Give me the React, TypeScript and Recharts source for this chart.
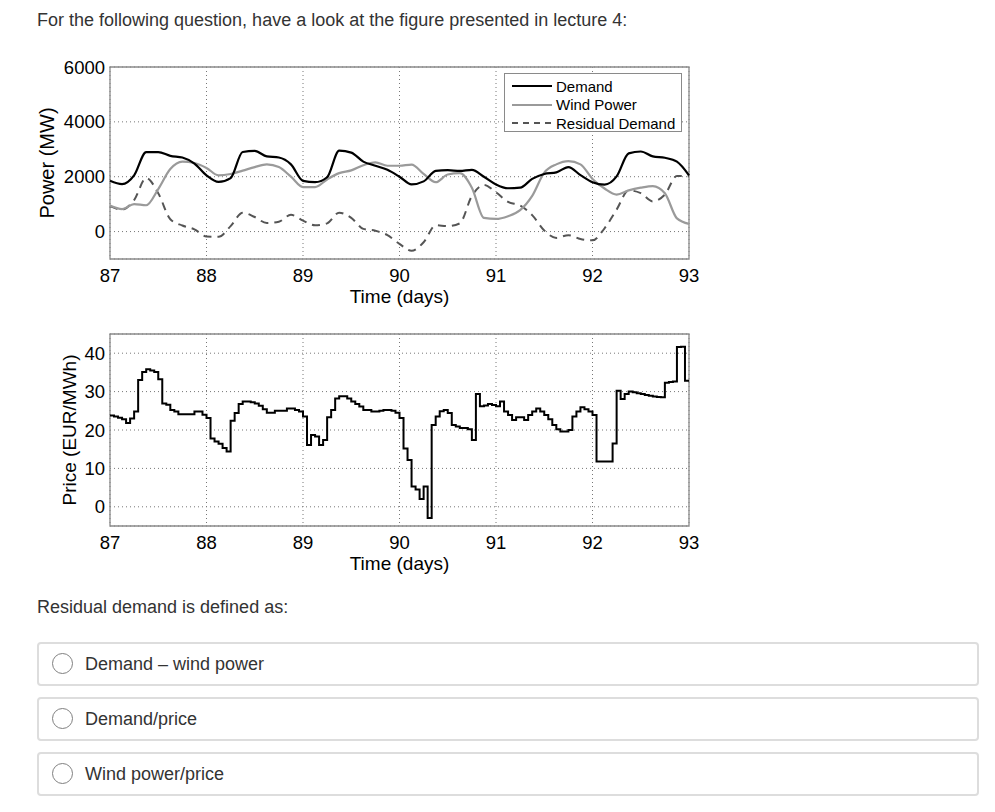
import React from 'react';
import { LineChart, Line, XAxis, YAxis, CartesianGrid, ReferenceArea, Legend } from 'recharts';

const FONT = '"Liberation Sans", Arial, Helvetica, sans-serif';

const DAY_TICKS = [87, 88, 89, 90, 91, 92, 93];
const POWER_TICKS = [0, 2000, 4000, 6000];
const PRICE_TICKS = [0, 10, 20, 30, 40];

// power readings (MW), one every 3 hours from day 87 to day 93
const demand = [
  1850, 1730, 2050, 2900, 2900, 2760, 2700, 2480,
  2050, 1810, 1950, 2900, 2940, 2740, 2700, 2450,
  1850, 1800, 1980, 2950, 2880, 2550, 2400, 2250,
  2000, 1720, 1830, 2210, 2240, 2210, 2250, 2000,
  1720, 1580, 1600, 1920, 2100, 2160, 2350, 2060,
  1800, 1710, 2010, 2850, 2920, 2740, 2690, 2550,
  2050,
];
const windPower = [
  950, 820, 1000, 960, 1550, 2280, 2550, 2500,
  2320, 2050, 2100, 2220, 2350, 2450, 2350, 2000,
  1620, 1620, 1900, 2130, 2230, 2420, 2520, 2400,
  2400, 2440, 2100, 1800, 2080, 2130, 1600, 500,
  460, 560, 780, 1300, 2150, 2450, 2570, 2450,
  1920, 1570, 1350, 1500, 1600, 1660, 1400, 480,
  280,
];
const residualDemand = [
  930, 800, 1150, 1950, 1400, 450, 220, 80,
  -180, -190, 200, 690, 530, 310, 360, 610,
  400, 230, 300, 690, 500, 100, 30, -130,
  -450, -700, -390, 230, 200, 300, 1300, 1700,
  1430, 1080, 950, 600, 40, -230, -130, -270,
  -320, 120, 800, 1500, 1400, 1100, 1350, 2030,
  2010,
];

// hourly price (EUR/MWh), day 87 00:00 -> day 93 00:00
const price = [
  23.8, 23.5, 23.2, 22.8, 21.8, 23.0, 24.8, 33.0, 35.1, 35.8, 35.5, 35.1,
  33.2, 26.9, 26.6, 25.2, 24.8, 24.1, 24.1, 24.1, 24.1, 24.8, 24.8, 24.0,
  23.1, 17.8, 17.0, 16.4, 15.3, 14.4, 22.4, 24.4, 26.8, 27.4, 27.4, 27.2,
  26.9, 26.3, 25.4, 24.5, 24.5, 25.0, 25.0, 25.0, 25.6, 25.6, 25.2, 24.8,
  23.5, 16.1, 18.7, 18.3, 16.1, 17.4, 23.3, 25.2, 28.2, 28.8, 28.8, 28.2,
  27.4, 26.8, 26.1, 25.2, 25.2, 24.8, 24.8, 25.0, 25.2, 25.2, 25.0, 24.5,
  23.1, 15.2, 12.2, 5.3, 4.5, 2.0, 5.3, -2.9, 21.3, 23.5, 24.9, 25.2,
  24.4, 21.3, 20.9, 20.5, 20.5, 20.2, 17.4, 29.4, 26.2, 26.4, 26.8, 26.5,
  26.2, 27.4, 24.8, 23.9, 22.6, 23.3, 23.3, 22.6, 23.9, 24.8, 25.6, 24.8,
  23.9, 22.8, 21.3, 20.2, 19.6, 19.6, 20.0, 23.5, 24.8, 25.9, 25.4, 24.8,
  23.9, 11.8, 11.8, 11.8, 11.8, 16.5, 30.2, 28.1, 29.4, 30.0, 29.8, 29.6,
  29.4, 29.1, 28.9, 28.7, 28.6, 28.5, 32.3, 32.5, 32.6, 41.6, 41.7, 32.8,
  32.8,
];

const OPTIONS = ['Demand \u2013 wind power', 'Demand/price', 'Wind power/price'];

const powerData = demand.map((d, i) => ({
  day: 87 + i / 8,
  demand: d,
  wind: windPower[i],
  residual: residualDemand[i],
}));
const priceData = price.map((p, i) => ({ day: 87 + i / 24, price: p }));

const legendItems = [
  { name: 'Demand', color: '#000', dash: undefined, width: 2.2 },
  { name: 'Wind Power', color: '#9a9a9a', dash: undefined, width: 2.2 },
  { name: 'Residual Demand', color: '#555', dash: '6 5', width: 2 },
];

const tickStyle = { fontSize: 18.5, fill: '#000', fontFamily: FONT };

const PowerLegend = () => (
  <div style={{ background: '#fff', border: '1px solid #8a8a8a', width: 178, height: 59, boxSizing: 'border-box', padding: '3px 0 0 6px' }}>
    {legendItems.map(item => (
      <div key={item.name} style={{ display: 'flex', alignItems: 'center', height: 18.5, fontFamily: FONT, fontSize: 15, color: '#000' }}>
        <svg width={42} height={10} style={{ marginRight: 3 }}>
          <line x1={1} y1={5} x2={41} y2={5} stroke={item.color} strokeWidth={item.width} strokeDasharray={item.dash} />
        </svg>
        <span>{item.name}</span>
      </div>
    ))}
  </div>
);

export default function App() {
  return (
    <div style={{ position: 'absolute', left: 0, top: 0, width: 995, height: 812, background: '#fff', fontFamily: FONT, color: '#333' }}>
      <div style={{ position: 'absolute', left: 37, top: 10, fontSize: 18, lineHeight: '20px' }}>
        For the following question, have a look at the figure presented in lecture 4:
      </div>

      {/* power chart */}
      <div style={{ position: 'absolute', left: 0, top: 50 }}>
        <LineChart width={700} height={259} data={powerData} margin={{ top: 17, right: 11, bottom: 0, left: 0 }}>
          <CartesianGrid stroke="#777" strokeDasharray="1 3" />
          <XAxis
            type="number" dataKey="day" domain={[87, 93]} ticks={DAY_TICKS}
            tickLine={false} axisLine={false} tickSize={4} tickMargin={6} height={50} tick={tickStyle}
            label={{ value: 'Time (days)', position: 'insideBottom', offset: 6, fontSize: 19, fill: '#000', fontFamily: FONT }}
          />
          <YAxis
            type="number" domain={[-1000, 6000]} ticks={POWER_TICKS}
            tickLine={false} axisLine={false} tickSize={2} tickMargin={3} width={110} tick={tickStyle}
            label={{ value: 'Power (MW)', angle: -90, position: 'insideLeft', offset: 47, fontSize: 20, fill: '#000', fontFamily: FONT, style: { textAnchor: 'middle' } }}
          />
          <ReferenceArea x1={87} x2={93} y1={-1000} y2={6000} fill="none" stroke="#8a8a8a" strokeWidth={1.3} />
          <Line type="monotone" dataKey="residual" name="Residual Demand" stroke="#555" strokeWidth={2} strokeDasharray="8 6" dot={false} isAnimationActive={false} />
          <Line type="monotone" dataKey="wind" name="Wind Power" stroke="#9a9a9a" strokeWidth={2.2} dot={false} isAnimationActive={false} />
          <Line type="monotone" dataKey="demand" name="Demand" stroke="#000" strokeWidth={2.2} dot={false} isAnimationActive={false} />
          <Legend
            layout="vertical" align="center" verticalAlign="middle"
            wrapperStyle={{ left: 504, top: 23, width: 178, height: 59 }}
            content={() => <PowerLegend />}
          />
        </LineChart>
      </div>

      {/* price chart */}
      <div style={{ position: 'absolute', left: 0, top: 320 }}>
        <LineChart width={700} height={256} data={priceData} margin={{ top: 14, right: 11, bottom: 0, left: 0 }}>
          <CartesianGrid stroke="#777" strokeDasharray="1 3" />
          <XAxis
            type="number" dataKey="day" domain={[87, 93]} ticks={DAY_TICKS}
            tickLine={false} axisLine={false} tickSize={4} tickMargin={6} height={50} tick={tickStyle}
            label={{ value: 'Time (days)', position: 'insideBottom', offset: 6, fontSize: 19, fill: '#000', fontFamily: FONT }}
          />
          <YAxis
            type="number" domain={[-5, 45]} ticks={PRICE_TICKS}
            tickLine={false} axisLine={false} tickSize={2} tickMargin={3} width={110} tick={tickStyle}
            label={{ value: 'Price (EUR/MWh)', angle: -90, position: 'insideLeft', offset: 69, fontSize: 19, fill: '#000', fontFamily: FONT, style: { textAnchor: 'middle' } }}
          />
          <ReferenceArea x1={87} x2={93} y1={-5} y2={45} fill="none" stroke="#8a8a8a" strokeWidth={1.3} />
          <Line type="stepAfter" dataKey="price" stroke="#000" strokeWidth={2} dot={false} isAnimationActive={false} />
        </LineChart>
      </div>

      <div style={{ position: 'absolute', left: 37, top: 597, fontSize: 18, lineHeight: '20px' }}>
        Residual demand is defined as:
      </div>

      {OPTIONS.map((opt, i) => (
        <div
          key={opt}
          style={{
            position: 'absolute', left: 37, top: 642 + i * 55, width: 942, height: 44,
            boxSizing: 'border-box', border: '2px solid #dddddd', borderRadius: 4,
          }}
        >
          <div style={{ position: 'absolute', left: 13, top: 9, width: 21, height: 21, boxSizing: 'border-box', border: '1px solid #808080', borderRadius: '50%' }} />
          <div style={{ position: 'absolute', left: 46, top: 0, lineHeight: '40px', fontSize: 18 }}>{opt}</div>
        </div>
      ))}
    </div>
  );
}
